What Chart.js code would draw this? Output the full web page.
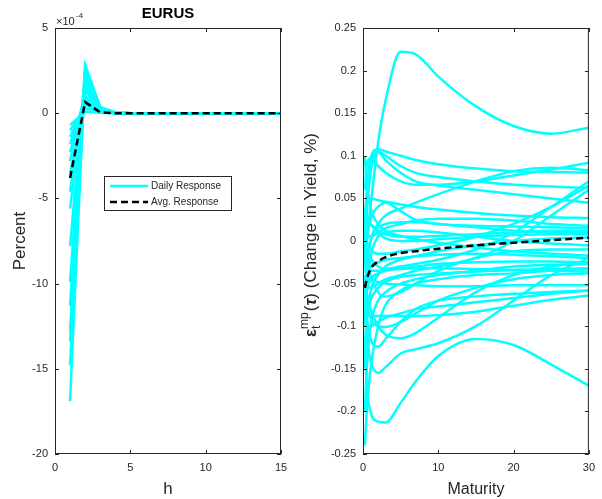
<!DOCTYPE html>
<html>
<head>
<meta charset="utf-8">
<script src="https://cdn.jsdelivr.net/npm/chart.js@4.4.0/dist/chart.umd.min.js"></script>
<style>
  html, body { margin: 0; padding: 0; background: #fff; }
  #wrap { position: relative; width: 602px; height: 499px; }
  canvas { position: absolute; top: 0; }
  #left { left: 0; }
  #right { left: 295px; }
</style>
</head>
<body>
<div id="wrap">
  <canvas id="left" width="295" height="499"></canvas>
  <canvas id="right" width="307" height="499"></canvas>
</div>
<script>
// ---- left panel: impulse responses (units of 1e-4 percent) ----
const horizons = [1, 2, 3, 4, 5, 6, 7, 8, 9, 10, 11, 12, 13, 14, 15];
const dailyResponses = [
  [-0.7, 0.1, 0.02, 0, 0, 0, 0, 0, 0, 0, 0, 0, 0, 0, 0],
  [-1.0, 0.3, 0.05, 0, 0, 0, 0, 0, 0, 0, 0, 0, 0, 0, 0],
  [-1.4, 0.5, 0.08, 0.01, 0, 0, 0, 0, 0, 0, 0, 0, 0, 0, 0],
  [-1.8, 0.8, 0.12, 0.02, 0, 0, 0, 0, 0, 0, 0, 0, 0, 0, 0],
  [-2.3, 1.0, 0.15, 0.02, 0, 0, 0, 0, 0, 0, 0, 0, 0, 0, 0],
  [-2.8, 1.3, 0.2, 0.03, 0, 0, 0, 0, 0, 0, 0, 0, 0, 0, 0],
  [-3.5, 0.6, 0.1, 0.01, 0, 0, 0, 0, 0, 0, 0, 0, 0, 0, 0],
  [-4.6, 1.5, 0.22, 0.03, 0, 0, 0, 0, 0, 0, 0, 0, 0, 0, 0],
  [-5.6, 1.8, 0.25, 0.04, 0, 0, 0, 0, 0, 0, 0, 0, 0, 0, 0],
  [-7.8, 2.2, 0.3, 0.04, 0, 0, 0, 0, 0, 0, 0, 0, 0, 0, 0],
  [-9.9, 2.5, 0.32, 0.05, 0, 0, 0, 0, 0, 0, 0, 0, 0, 0, 0],
  [-11.3, 2.85, 0.35, 0.05, 0, 0, 0, 0, 0, 0, 0, 0, 0, 0, 0],
  [-12.8, 2.0, 0.28, 0.04, 0, 0, 0, 0, 0, 0, 0, 0, 0, 0, 0],
  [-13.4, 2.6, 0.33, 0.05, 0, 0, 0, 0, 0, 0, 0, 0, 0, 0, 0],
  [-14.8, 2.3, 0.3, 0.04, 0, 0, 0, 0, 0, 0, 0, 0, 0, 0, 0],
  [-16.9, 2.7, 0.35, 0.05, 0, 0, 0, 0, 0, 0, 0, 0, 0, 0, 0]
];
const avgResponse = [-3.8, 0.65, 0.05, 0, 0, 0, 0, 0, 0, 0, 0, 0, 0, 0, 0];

// ---- right panel: yield curve changes (percent) ----
const maturities = [0.25, 0.5, 1, 2, 3, 5, 7, 10, 15, 20, 25, 30];
const yieldCurves = [
  [-0.02, 0.0, 0.04, 0.115, 0.165, 0.222, 0.219, 0.193, 0.158, 0.135, 0.126, 0.133],
  [0.02, 0.06, 0.097, 0.108, 0.105, 0.1, 0.095, 0.09, 0.085, 0.082, 0.081, 0.08],
  [0.0, 0.05, 0.09, 0.105, 0.1, 0.088, 0.08, 0.075, 0.07, 0.066, 0.064, 0.062],
  [-0.02, 0.03, 0.08, 0.104, 0.095, 0.08, 0.07, 0.065, 0.06, 0.055, 0.05, 0.045],
  [0.06, 0.09, 0.097, 0.088, 0.08, 0.07, 0.066, 0.066, 0.07, 0.077, 0.084, 0.092],
  [-0.05, -0.03, 0.0, 0.02, 0.03, 0.038, 0.045, 0.055, 0.07, 0.082, 0.086, 0.083],
  [0.03, 0.045, 0.05, 0.048, 0.046, 0.043, 0.04, 0.037, 0.033, 0.03, 0.028, 0.027],
  [-0.03, 0.0, 0.025, 0.04, 0.045, 0.035, 0.025, 0.02, 0.018, 0.017, 0.016, 0.015],
  [-0.02, -0.03, -0.035, -0.035, -0.033, -0.03, -0.027, -0.022, -0.01, 0.01, 0.04, 0.07],
  [-0.04, -0.05, -0.055, -0.05, -0.045, -0.04, -0.035, -0.03, -0.02, 0.0, 0.03, 0.06],
  [0.01, 0.0, -0.01, -0.015, -0.015, -0.012, -0.01, -0.005, 0.005, 0.02, 0.04, 0.065],
  [0.02, 0.01, 0.005, 0.01, 0.015, 0.02, 0.024, 0.026, 0.026, 0.024, 0.02, 0.018],
  [-0.06, -0.03, 0.0, 0.015, 0.02, 0.022, 0.022, 0.02, 0.016, 0.012, 0.01, 0.009],
  [0.03, 0.025, 0.02, 0.012, 0.008, 0.005, 0.005, 0.006, 0.008, 0.01, 0.012, 0.012],
  [0.04, 0.03, 0.02, 0.01, 0.003, 0.0, 0.0, 0.002, 0.005, 0.007, 0.008, 0.008],
  [-0.1, -0.06, -0.02, 0.005, 0.01, 0.012, 0.012, 0.01, 0.005, 0.0, -0.003, -0.005],
  [-0.05, -0.04, -0.03, -0.025, -0.022, -0.02, -0.018, -0.016, -0.015, -0.016, -0.018, -0.02],
  [0.0, -0.01, -0.02, -0.03, -0.033, -0.032, -0.03, -0.027, -0.025, -0.024, -0.024, -0.025],
  [-0.08, -0.06, -0.045, -0.038, -0.035, -0.033, -0.032, -0.032, -0.033, -0.034, -0.035, -0.036],
  [-0.03, -0.04, -0.045, -0.048, -0.05, -0.051, -0.052, -0.053, -0.053, -0.052, -0.052, -0.052],
  [-0.12, -0.09, -0.07, -0.055, -0.048, -0.042, -0.04, -0.038, -0.036, -0.034, -0.033, -0.032],
  [-0.06, -0.08, -0.087, -0.088, -0.088, -0.088, -0.088, -0.087, -0.083, -0.076, -0.069, -0.064],
  [-0.09, -0.1, -0.1, -0.095, -0.09, -0.085, -0.08, -0.077, -0.072, -0.067, -0.062, -0.058],
  [-0.06, -0.09, -0.115, -0.124, -0.115, -0.095, -0.08, -0.07, -0.065, -0.062, -0.06, -0.058],
  [-0.05, -0.07, -0.09, -0.1, -0.101, -0.095, -0.085, -0.07, -0.055, -0.045, -0.04, -0.038],
  [-0.04, -0.06, -0.08, -0.1, -0.11, -0.114, -0.108, -0.09, -0.06, -0.04, -0.03, -0.025],
  [-0.08, -0.11, -0.14, -0.155, -0.148, -0.132, -0.127, -0.12, -0.1, -0.07, -0.04, -0.02],
  [-0.12, -0.17, -0.2, -0.212, -0.213, -0.19, -0.165, -0.135, -0.115, -0.122, -0.145, -0.17],
  [-0.24, -0.2, -0.15, -0.1, -0.075, -0.058, -0.05, -0.045, -0.04, -0.038, -0.035, -0.033],
  [-0.2, -0.15, -0.1, -0.07, -0.06, -0.05, -0.045, -0.04, -0.035, -0.03, -0.028, -0.027],
  [0.0, -0.02, -0.04, -0.06, -0.065, -0.06, -0.05, -0.035, -0.02, -0.012, -0.01, -0.01],
  [0.1, 0.07, 0.04, 0.02, 0.012, 0.006, 0.002, -0.002, -0.008, -0.012, -0.015, -0.017],
  [-0.15, -0.1, -0.06, -0.04, -0.03, -0.022, -0.018, -0.012, -0.005, 0.0, 0.003, 0.004]
];
const avgCurve = [-0.055, -0.045, -0.033, -0.024, -0.019, -0.014, -0.012, -0.009, -0.005, -0.002, 0.001, 0.004];

const INK = '#262626';
const FONT = '"Liberation Sans", Arial, Helvetica, sans-serif';
const CYAN = '#00ffff';

Chart.defaults.font.family = FONT;
Chart.defaults.color = INK;

// MATLAB-style box with inward ticks
const boxPlugin = {
  id: 'box',
  afterDatasetsDraw(chart) {
    const { ctx, chartArea: a, scales } = chart;
    const L = 4;
    ctx.save();
    ctx.strokeStyle = INK;
    ctx.lineWidth = 1;
    ctx.strokeRect(a.left + 0.5, a.top + 0.5, a.width - 1, a.height - 1);
    ctx.beginPath();
    scales.x.ticks.forEach(t => {
      const px = Math.round(scales.x.getPixelForValue(t.value)) + 0.5;
      ctx.moveTo(px, a.bottom); ctx.lineTo(px, a.bottom - L);
      ctx.moveTo(px, a.top); ctx.lineTo(px, a.top + L);
    });
    scales.y.ticks.forEach(t => {
      const py = Math.round(scales.y.getPixelForValue(t.value)) + 0.5;
      ctx.moveTo(a.left, py); ctx.lineTo(a.left + L, py);
      ctx.moveTo(a.right, py); ctx.lineTo(a.right - L, py);
    });
    ctx.stroke();
    ctx.restore();
  }
};

function tickFont() { return { family: FONT, size: 11 }; }

// ---- left chart ----
const leftText = {
  id: 'leftText',
  afterDraw(chart) {
    const { ctx, chartArea: a } = chart;
    ctx.save();
    ctx.fillStyle = '#000';
    ctx.textAlign = 'center';
    ctx.textBaseline = 'middle';
    ctx.font = 'bold 15px ' + FONT;
    ctx.fillText('EURUS', (a.left + a.right) / 2, 14);

    // exponent note
    ctx.fillStyle = INK;
    ctx.textAlign = 'left';
    ctx.textBaseline = 'alphabetic';
    ctx.font = '11px ' + FONT;
    ctx.fillText('\u00d710', 56, 25);
    ctx.font = '8px ' + FONT;
    ctx.fillText('-4', 76, 18);

    // axis titles
    ctx.font = '17px ' + FONT;
    ctx.textAlign = 'center';
    ctx.fillText('h', (a.left + a.right) / 2, 494);
    ctx.save();
    ctx.translate(25, (a.top + a.bottom) / 2);
    ctx.rotate(-Math.PI / 2);
    ctx.fillText('Percent', 0, 0);
    ctx.restore();

    // legend
    const bx = 104, by = 176, bw = 128, bh = 35;
    ctx.fillStyle = '#fff';
    ctx.fillRect(bx, by, bw, bh);
    ctx.strokeStyle = INK;
    ctx.lineWidth = 1;
    ctx.strokeRect(bx + 0.5, by + 0.5, bw - 1, bh - 1);
    const items = [
      { ds: chart.data.datasets[1], label: 'Daily Response', y: 186 },
      { ds: chart.data.datasets[0], label: 'Avg. Response', y: 202 }
    ];
    ctx.font = '10px ' + FONT;
    ctx.textAlign = 'left';
    ctx.textBaseline = 'middle';
    items.forEach(it => {
      ctx.beginPath();
      ctx.strokeStyle = it.ds.borderColor;
      ctx.lineWidth = it.ds.borderWidth;
      ctx.setLineDash(it.ds.borderDash || []);
      ctx.moveTo(110, it.y);
      ctx.lineTo(148, it.y);
      ctx.stroke();
      ctx.setLineDash([]);
      ctx.fillStyle = INK;
      ctx.fillText(it.label, 151, it.y + 0.5);
    });
    ctx.restore();
  }
};

const leftDatasets = [{
  data: avgResponse,
  borderColor: '#000',
  borderWidth: 2.5,
  borderDash: [7, 4],
  pointRadius: 0,
  tension: 0,
  order: 0
}].concat(dailyResponses.map(r => ({
  data: r,
  borderColor: CYAN,
  borderWidth: 2.5,
  pointRadius: 0,
  tension: 0,
  order: 1
})));

new Chart(document.getElementById('left'), {
  type: 'line',
  data: {
    datasets: leftDatasets.map(d => Object.assign({}, d, {
      data: d.data.map((v, i) => ({ x: horizons[i], y: v }))
    }))
  },
  options: {
    responsive: false,
    animation: false,
    events: [],
    layout: { padding: { top: 28, right: 14, bottom: 0, left: 0 } },
    plugins: { legend: { display: false }, tooltip: { enabled: false } },
    scales: {
      x: {
        type: 'linear', min: 0, max: 15,
        ticks: { stepSize: 5, font: tickFont(), color: INK, padding: 7, maxRotation: 0 },
        grid: { display: false, drawTicks: false },
        border: { display: false },
        afterFit: s => { s.height = 45; }
      },
      y: {
        min: -20, max: 5,
        ticks: { stepSize: 5, font: tickFont(), color: INK, padding: 7 },
        grid: { display: false, drawTicks: false },
        border: { display: false },
        afterFit: s => { s.width = 55; }
      }
    }
  },
  plugins: [boxPlugin, leftText]
});

// ---- right chart ----
const rightText = {
  id: 'rightText',
  afterDraw(chart) {
    const { ctx, chartArea: a } = chart;
    ctx.save();
    ctx.fillStyle = INK;
    ctx.textBaseline = 'alphabetic';
    ctx.textAlign = 'center';
    ctx.font = '16px ' + FONT;
    ctx.fillText('Maturity', (a.left + a.right) / 2, 494);

    // rotated y label: eps_t^mp(tau) (Change in Yield, %)
    const big = '17px ' + FONT;
    const small = '12px ' + FONT;
    const parts = [
      { t: '\u03b5', f: 'bold ' + big, dy: 0 },
      { t: 'mp', f: small, dy: -8, sub: 't' },
      { t: '(', f: big, dy: 0 },
      { t: '\u03c4', f: 'italic bold ' + big, dy: 0 },
      { t: ') (Change in Yield, %)', f: big, dy: 0 }
    ];
    let total = 0;
    parts.forEach(p => { ctx.font = p.f; p.w = ctx.measureText(p.t).width + (p.sub ? 1 : 0); total += p.w; });
    ctx.translate(21, (a.top + a.bottom) / 2 - 6);
    ctx.rotate(-Math.PI / 2);
    ctx.textAlign = 'left';
    let x = -total / 2;
    parts.forEach(p => {
      ctx.font = p.f;
      ctx.fillText(p.t, x, p.dy);
      if (p.sub) ctx.fillText(p.sub, x, 4);
      x += p.w;
    });
    ctx.restore();
  }
};

const rightDatasets = [{
  data: avgCurve,
  borderColor: '#000',
  borderWidth: 2.5,
  borderDash: [7, 4],
  order: 0
}].concat(yieldCurves.map(c => ({
  data: c,
  borderColor: CYAN,
  borderWidth: 2.5,
  order: 1
})));

new Chart(document.getElementById('right'), {
  type: 'line',
  data: {
    datasets: rightDatasets.map(d => Object.assign({}, d, {
      data: d.data.map((v, i) => ({ x: maturities[i], y: v })),
      pointRadius: 0,
      cubicInterpolationMode: 'monotone'
    }))
  },
  options: {
    responsive: false,
    animation: false,
    events: [],
    layout: { padding: { top: 28, right: 13, bottom: 0, left: 0 } },
    plugins: { legend: { display: false }, tooltip: { enabled: false } },
    scales: {
      x: {
        type: 'linear', min: 0, max: 30,
        ticks: { stepSize: 10, font: tickFont(), color: INK, padding: 7, maxRotation: 0 },
        grid: { display: false, drawTicks: false },
        border: { display: false },
        afterFit: s => { s.height = 45; }
      },
      y: {
        min: -0.25, max: 0.25,
        ticks: {
          stepSize: 0.05, font: tickFont(), color: INK, padding: 7,
          callback: v => String(Number(v.toFixed(2)))
        },
        grid: { display: false, drawTicks: false },
        border: { display: false },
        afterFit: s => { s.width = 68; }
      }
    }
  },
  plugins: [boxPlugin, rightText]
});
</script>
</body>
</html>
